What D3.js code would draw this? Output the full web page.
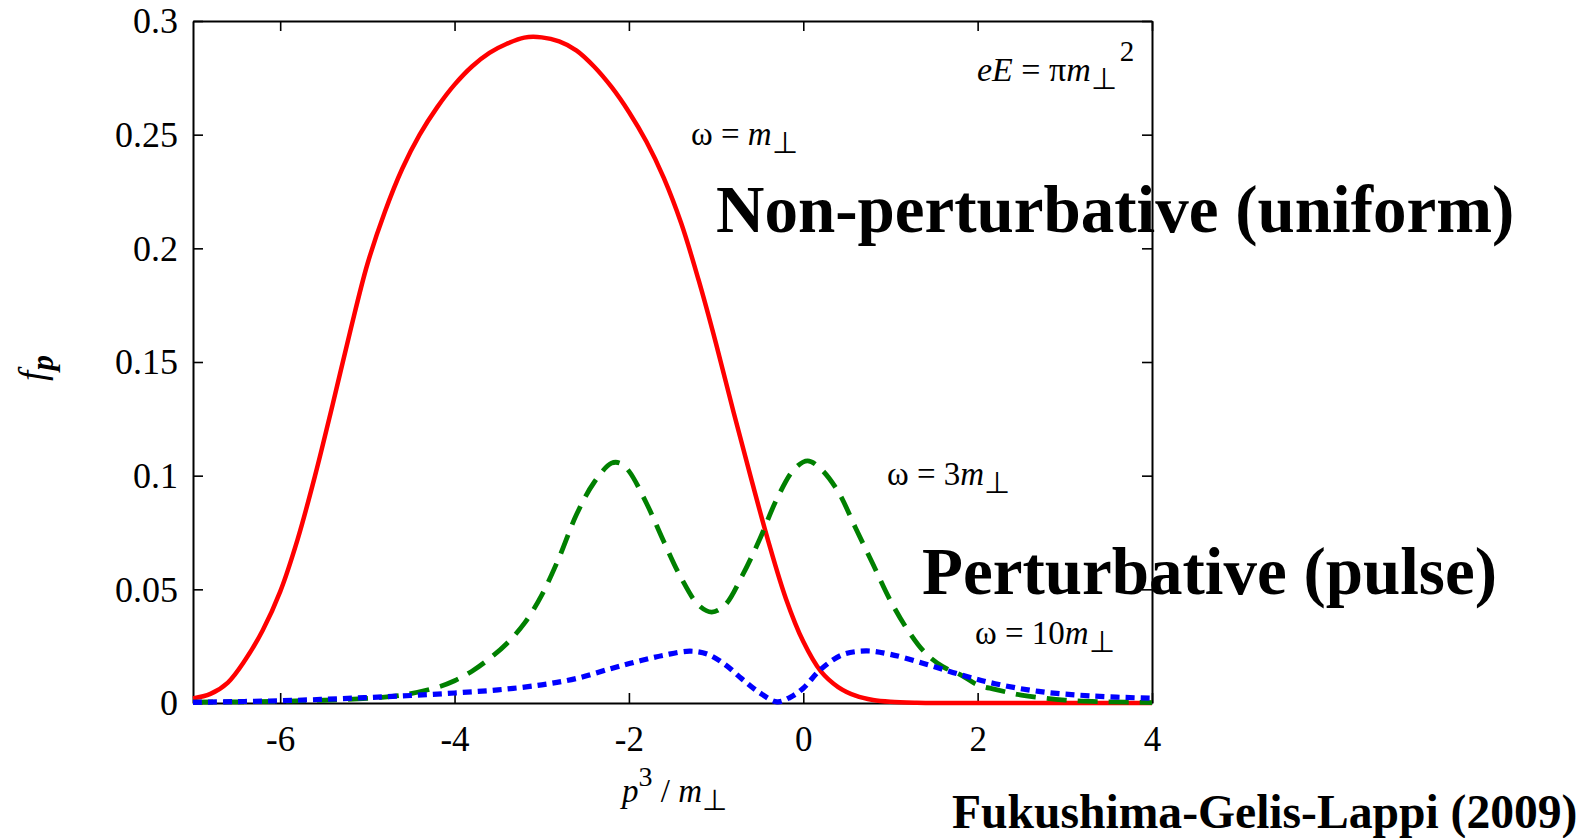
<!DOCTYPE html>
<html>
<head>
<meta charset="utf-8">
<script src="https://cdn.jsdelivr.net/npm/d3@7"></script>
<style>
  html, body { margin: 0; padding: 0; background: #fff; }
  svg { display: block; }
  text { font-family: "Liberation Serif", "Times New Roman", serif; fill: #000; }
</style>
</head>
<body>
<svg id="chart" width="1593" height="838"></svg>
<script>
// Longitudinal momentum p3/m_perp (x) and distribution f_p (y) for three pulse frequencies.
const pOmega1 = [-7.0, -6.8, -6.6, -6.4, -6.2, -6.0, -5.8, -5.6, -5.4, -5.2, -5.0, -4.8, -4.6, -4.4, -4.2, -4.0, -3.8, -3.6, -3.4, -3.2, -3.0, -2.8, -2.6, -2.4, -2.2, -2.0, -1.8, -1.6, -1.4, -1.2, -1.0, -0.8, -0.6, -0.4, -0.2, 0.0, 0.2, 0.4, 0.6, 0.8, 1.0, 1.3, 1.6, 2.0, 3.0, 4.0];
const fOmega1 = [0.002, 0.004, 0.009, 0.019, 0.032, 0.049, 0.072, 0.100, 0.131, 0.163, 0.193, 0.216, 0.235, 0.250, 0.262, 0.272, 0.280, 0.286, 0.290, 0.2927, 0.2928, 0.291, 0.287, 0.280, 0.271, 0.260, 0.247, 0.231, 0.211, 0.186, 0.158, 0.128, 0.099, 0.071, 0.046, 0.027, 0.014, 0.007, 0.0032, 0.0013, 0.0005, 0.0001, 0.0, 0.0, 0.0, 0.0];

const pOmega3 = [-7.0, -6.5, -6.0, -5.5, -5.0, -4.6, -4.2, -4.0, -3.8, -3.6, -3.4, -3.2, -3.0, -2.8, -2.6, -2.4, -2.2, -2.1, -2.0, -1.8, -1.6, -1.4, -1.2, -1.05, -0.9, -0.7, -0.5, -0.3, -0.1, 0.05, 0.2, 0.4, 0.6, 0.8, 1.0, 1.2, 1.4, 1.6, 1.8, 2.0, 2.2, 2.5, 3.0, 3.5, 4.0];
const fOmega3 = [0.0004, 0.0005, 0.0008, 0.0012, 0.002, 0.0035, 0.0069, 0.0098, 0.0140, 0.0195, 0.0262, 0.0350, 0.0475, 0.064, 0.083, 0.097, 0.1055, 0.1055, 0.102, 0.088, 0.071, 0.055, 0.043, 0.040, 0.043, 0.056, 0.072, 0.090, 0.103, 0.1065, 0.103, 0.093, 0.077, 0.061, 0.045, 0.032, 0.022, 0.016, 0.0125, 0.008, 0.006, 0.0035, 0.0013, 0.0005, 0.0002];

const pOmega10 = [-7.0, -6.5, -6.0, -5.5, -5.0, -4.5, -4.0, -3.5, -3.0, -2.6, -2.2, -1.9, -1.6, -1.3, -1.1, -0.9, -0.7, -0.5, -0.3, -0.15, 0.0, 0.2, 0.45, 0.72, 1.0, 1.4, 1.8, 2.2, 2.7, 3.3, 4.0];
const fOmega10 = [0.0003, 0.0006, 0.001, 0.0016, 0.0024, 0.0033, 0.0044, 0.0058, 0.0080, 0.0108, 0.0152, 0.0183, 0.0210, 0.0228, 0.0215, 0.0170, 0.0105, 0.0045, 0.0005, 0.0025, 0.0065, 0.0148, 0.0212, 0.0229, 0.0214, 0.0172, 0.0125, 0.0085, 0.0051, 0.0031, 0.0021];

const xTicks = [-6, -4, -2, 0, 2, 4];
const xTickLabels = ["-6", "-4", "-2", "0", "2", "4"];
const yTicks = [0, 0.05, 0.1, 0.15, 0.2, 0.25, 0.3];
const yTickLabels = ["0", "0.05", "0.1", "0.15", "0.2", "0.25", "0.3"];

const svg = d3.select("#chart");
const plotLeft = 193, plotRight = 1152, plotTop = 21, plotBottom = 703;

const x = d3.scaleLinear().domain([-7, 4]).range([plotLeft, plotRight]);
const y = d3.scaleLinear().domain([0, 0.3]).range([plotBottom, plotTop]);

// rich text helper: parts = [text, {it, bold, size, dy, dx}]
function rich(parent, px, py, size, parts, attrs = {}) {
  const t = parent.append("text").attr("x", px).attr("y", py).attr("font-size", size);
  Object.entries(attrs).forEach(([k, v]) => t.attr(k, v));
  parts.forEach(([str, o = {}]) => {
    const s = t.append("tspan").text(str);
    if (o.it) s.attr("font-style", "italic");
    if (o.bold) s.attr("font-weight", "bold");
    if (o.size) s.attr("font-size", o.size);
    if (o.dy) s.attr("dy", o.dy);
    if (o.dx) s.attr("dx", o.dx);
  });
  return t;
}

// big annotation labels (drawn under the frame)
svg.append("text").attr("x", 716).attr("y", 232).attr("font-size", 67).attr("font-weight", "bold")
  .text("Non-perturbative (uniform)");
svg.append("text").attr("x", 922).attr("y", 594).attr("font-size", 67).attr("font-weight", "bold")
  .text("Perturbative (pulse)");
svg.append("text").attr("x", 952).attr("y", 828).attr("font-size", 47.6).attr("font-weight", "bold")
  .text("Fukushima-Gelis-Lappi (2009)");

// axes: ticks point inward on all four sides
const axB = d3.axisBottom(x).tickValues(xTicks).tickFormat((d, i) => xTickLabels[i])
  .tickSizeInner(-10).tickSizeOuter(0).tickPadding(26);
const axT = d3.axisTop(x).tickValues(xTicks).tickFormat("").tickSizeInner(-10).tickSizeOuter(0);
const axL = d3.axisLeft(y).tickValues(yTicks).tickFormat((d, i) => yTickLabels[i])
  .tickSizeInner(-10).tickSizeOuter(0).tickPadding(15);
const axR = d3.axisRight(y).tickValues(yTicks).tickFormat("").tickSizeInner(-10).tickSizeOuter(0);

function styleAxis(g) {
  g.select(".domain").attr("stroke", "#000").attr("stroke-width", 2);
  g.selectAll(".tick line").attr("stroke", "#000").attr("stroke-width", 1.6);
  g.selectAll(".tick text").attr("font-size", 36).attr("fill", "#000");
}
svg.append("g").attr("transform", `translate(0,${plotBottom})`).call(axB).call(styleAxis)
  .selectAll(".tick text").attr("font-size", 35).attr("dy", "0.62em");
svg.append("g").attr("transform", `translate(0,${plotTop})`).call(axT).call(styleAxis);
svg.append("g").attr("transform", `translate(${plotLeft},0)`).call(axL).call(styleAxis)
  .selectAll(".tick text").attr("dy", "0.33em");
svg.append("g").attr("transform", `translate(${plotRight},0)`).call(axR).call(styleAxis);

// curves
const line = d3.line().x(d => x(d[0])).y(d => y(d[1])).curve(d3.curveCatmullRom.alpha(0.5));
const series = [
  { p: pOmega1, f: fOmega1, color: "#ff0000", width: 4.5, dash: null },
  { p: pOmega3, f: fOmega3, color: "#008000", width: 4.8, dash: "20,11" },
  { p: pOmega10, f: fOmega10, color: "#0000ff", width: 5.2, dash: "9,6" }
];
series.forEach(s => {
  const pts = s.p.map((v, i) => [v, s.f[i]]);
  const path = svg.append("path").datum(pts).attr("d", line)
    .attr("fill", "none").attr("stroke", s.color).attr("stroke-width", s.width)
    .attr("stroke-linejoin", "round");
  if (s.dash) path.attr("stroke-dasharray", s.dash);
});

// axis titles
const yt = svg.append("g").attr("transform", "translate(45,368) rotate(-90)");
rich(yt, 0, 0, 37, [["f", { it: true }], ["p", { it: true, bold: true, dy: 8, size: 31 }]], { "text-anchor": "middle" });
rich(svg, 622, 802, 33, [["p", { it: true }], ["3", { dy: -16, size: 28 }], [" / ", { dy: 16 }], ["m", { it: true }], ["⊥", { dy: 8, size: 29 }]]);

// curve annotations
rich(svg, 977, 81, 34, [["eE", { it: true }], [" = π"], ["m", { it: true }], ["⊥", { dy: 8, size: 30 }], ["2", { dy: -28, size: 29, dx: 3 }]]);
rich(svg, 691, 145, 33, [["ω = "], ["m", { it: true }], ["⊥", { dy: 8, size: 30 }]]);
rich(svg, 887, 485, 33, [["ω = 3"], ["m", { it: true }], ["⊥", { dy: 8, size: 30 }]]);
rich(svg, 975, 644, 33, [["ω = 10"], ["m", { it: true }], ["⊥", { dy: 8, size: 30 }]]);
</script>
</body>
</html>
